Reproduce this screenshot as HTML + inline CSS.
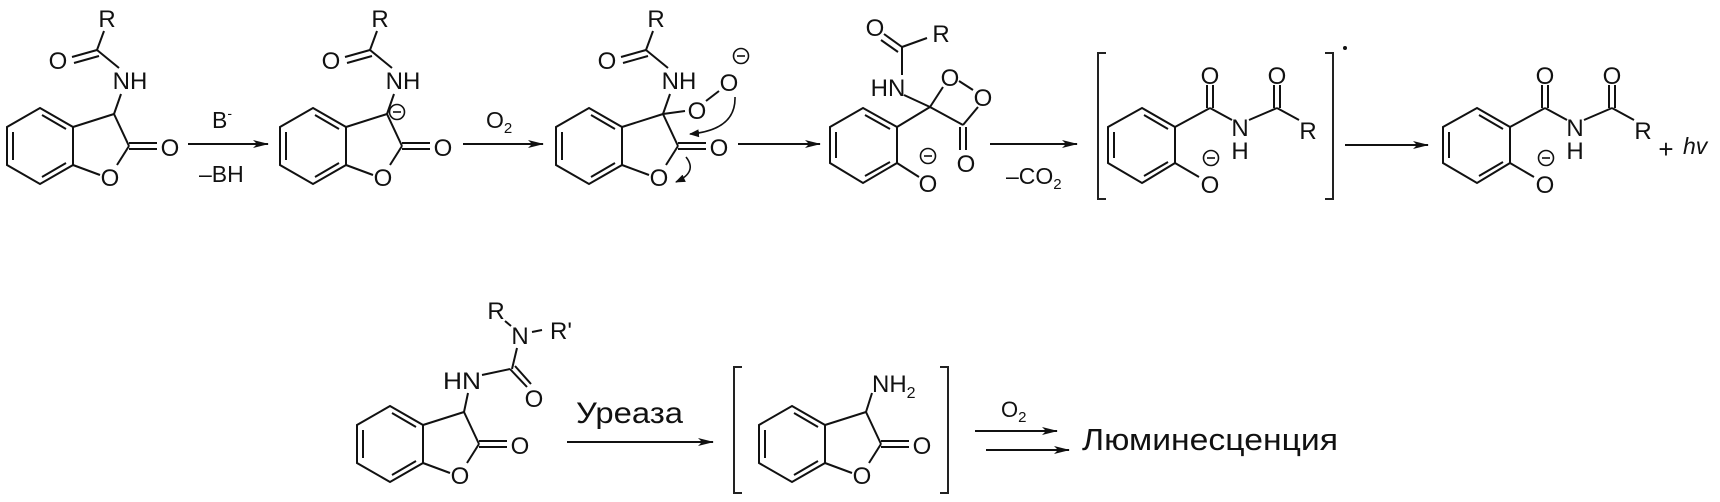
<!DOCTYPE html>
<html><head><meta charset="utf-8"><style>
html,body{margin:0;padding:0;background:#fff;}
svg{display:block;}
text{font-family:"Liberation Sans",Arial,sans-serif;fill:#111;}
</style></head><body>
<svg width="1720" height="502" viewBox="0 0 1720 502" xmlns="http://www.w3.org/2000/svg">
<defs>
<g id="bzf">
  <g fill="none" stroke="#111" stroke-width="2">
    <polygon points="40,108 73,127 73,165 40,184 7,165 7,127"/>
    <line x1="13" y1="132" x2="13" y2="160"/>
    <line x1="42" y1="115" x2="66" y2="129"/>
    <line x1="42" y1="177" x2="66" y2="163"/>
    <line x1="73" y1="127" x2="114" y2="114"/>
    <line x1="114" y1="114" x2="129" y2="146"/>
    <line x1="129" y1="146" x2="117" y2="165"/>
    <line x1="73" y1="165" x2="100" y2="175"/>
    <line x1="129" y1="143" x2="157" y2="143"/>
    <line x1="129" y1="149" x2="157" y2="149"/>
  </g>
  <text x="110" y="186" font-size="24" text-anchor="middle">O</text>
  <text x="170" y="156" font-size="24" text-anchor="middle">O</text>
</g>
<g id="acyl">
  <g fill="none" stroke="#111" stroke-width="2">
    <line x1="114" y1="114" x2="121" y2="94"/>
    <line x1="119" y1="68" x2="97" y2="50"/>
    <line x1="97" y1="50" x2="72" y2="57"/>
    <line x1="99" y1="56" x2="74" y2="63"/>
    <line x1="97" y1="50" x2="104" y2="31"/>
  </g>
  <text x="130" y="89" font-size="24" text-anchor="middle">NH</text>
  <text x="58" y="69" font-size="24" text-anchor="middle">O</text>
  <text x="107" y="27" font-size="24" text-anchor="middle">R</text>
</g>
<g id="phen">
  <g fill="none" stroke="#111" stroke-width="2">
    <polygon points="1142,108 1175,127 1175,163 1142,183 1108,163 1108,127"/>
    <line x1="1114" y1="132" x2="1114" y2="158"/>
    <line x1="1144" y1="115" x2="1168" y2="129"/>
    <line x1="1144" y1="176" x2="1168" y2="162"/>
    <line x1="1175" y1="163" x2="1199" y2="177"/>
    <line x1="1175" y1="127" x2="1210" y2="108"/>
    <line x1="1207" y1="108" x2="1207" y2="85"/>
    <line x1="1213" y1="108" x2="1213" y2="85"/>
    <line x1="1210" y1="108" x2="1232" y2="120"/>
    <line x1="1249" y1="120" x2="1277" y2="108"/>
    <line x1="1274" y1="108" x2="1274" y2="85"/>
    <line x1="1280" y1="108" x2="1280" y2="85"/>
    <line x1="1277" y1="108" x2="1299" y2="120"/>
    <circle cx="1211" cy="158" r="7.5" stroke-width="1.6"/>
    <line x1="1207" y1="158" x2="1215" y2="158" stroke-width="1.6"/>
  </g>
  <text x="1210" y="84" font-size="24" text-anchor="middle">O</text>
  <text x="1277" y="84" font-size="24" text-anchor="middle">O</text>
  <text x="1240" y="136" font-size="24" text-anchor="middle">N</text>
  <text x="1240" y="159" font-size="24" text-anchor="middle">H</text>
  <text x="1308" y="139" font-size="24" text-anchor="middle">R</text>
  <text x="1210" y="193" font-size="24" text-anchor="middle">O</text>
</g>
<marker id="ah" markerWidth="16" markerHeight="10" refX="15" refY="5" orient="auto" markerUnits="userSpaceOnUse">
  <path d="M0,1 L16,5 L0,9 L4,5 Z" fill="#111"/>
</marker>
<marker id="ahs" markerWidth="10" markerHeight="8" refX="9" refY="4" orient="auto" markerUnits="userSpaceOnUse">
  <path d="M0,0 L10,4 L0,8 Z" fill="#111"/>
</marker>
</defs>

<use href="#bzf"/>
<use href="#acyl"/>

<line x1="188" y1="144" x2="268" y2="144" stroke="#111" stroke-width="2" marker-end="url(#ah)"/>
<text x="212" y="128" font-size="23">B<tspan font-size="14" dy="-10">-</tspan></text>
<text x="199" y="182" font-size="23">–BH</text>

<g transform="translate(273,0)"><use href="#bzf"/><use href="#acyl"/></g>
<circle cx="397" cy="112" r="7.5" fill="#fff" stroke="#111" stroke-width="1.6"/>
<line x1="393" y1="112" x2="401" y2="112" stroke="#111" stroke-width="1.6"/>

<line x1="463" y1="144" x2="543" y2="144" stroke="#111" stroke-width="2" marker-end="url(#ah)"/>
<text x="486" y="128" font-size="23">O<tspan font-size="15" dy="5">2</tspan></text>

<g transform="translate(549,0)"><use href="#bzf"/><use href="#acyl"/></g>
<g fill="none" stroke="#111" stroke-width="2">
  <line x1="663" y1="114" x2="685" y2="111"/>
  <line x1="706" y1="101" x2="719" y2="91"/>
  <circle cx="741" cy="56" r="7.5" stroke-width="1.6"/>
  <line x1="737" y1="56" x2="745" y2="56" stroke-width="1.6"/>
  <path d="M735,97 Q736,130 690,134" stroke-width="1.6" marker-end="url(#ahs)"/>
  <path d="M686,157 Q698,172 676,182" stroke-width="1.6" marker-end="url(#ahs)"/>
</g>
<text x="697" y="119" font-size="24" text-anchor="middle">O</text>
<text x="729" y="91" font-size="24" text-anchor="middle">O</text>

<line x1="738" y1="144" x2="820" y2="144" stroke="#111" stroke-width="2" marker-end="url(#ah)"/>

<g fill="none" stroke="#111" stroke-width="2">
  <polygon points="863,108 897,127 897,163 863,183 830,163 830,127"/>
  <line x1="836" y1="132" x2="836" y2="158"/>
  <line x1="865" y1="115" x2="890" y2="129"/>
  <line x1="865" y1="176" x2="890" y2="162"/>
  <line x1="897" y1="127" x2="930" y2="107"/>
  <line x1="930" y1="107" x2="904" y2="95"/>
  <line x1="902" y1="75" x2="902" y2="47"/>
  <line x1="902" y1="47" x2="884" y2="34"/>
  <line x1="898" y1="52" x2="881" y2="40"/>
  <line x1="902" y1="47" x2="927" y2="38"/>
  <line x1="930" y1="107" x2="943" y2="87"/>
  <line x1="959" y1="81" x2="973" y2="90"/>
  <line x1="978" y1="107" x2="963" y2="125"/>
  <line x1="963" y1="125" x2="930" y2="107"/>
  <line x1="960" y1="127" x2="960" y2="150"/>
  <line x1="966" y1="127" x2="966" y2="150"/>
  <line x1="897" y1="163" x2="919" y2="177"/>
  <circle cx="928" cy="156" r="7.5" stroke-width="1.6"/>
  <line x1="924" y1="156" x2="932" y2="156" stroke-width="1.6"/>
</g>
<text x="888" y="96" font-size="24" text-anchor="middle">HN</text>
<text x="875" y="36" font-size="24" text-anchor="middle">O</text>
<text x="941" y="42" font-size="24" text-anchor="middle">R</text>
<text x="950" y="86" font-size="24" text-anchor="middle">O</text>
<text x="983" y="106" font-size="24" text-anchor="middle">O</text>
<text x="966" y="172" font-size="24" text-anchor="middle">O</text>
<text x="928" y="192" font-size="24" text-anchor="middle">O</text>

<line x1="990" y1="144" x2="1077" y2="144" stroke="#111" stroke-width="2" marker-end="url(#ah)"/>
<text x="1006" y="184" font-size="23">–CO<tspan font-size="15" dy="5">2</tspan></text>

<use href="#phen"/>
<path d="M1106,53 L1098,53 L1098,199 L1106,199" fill="none" stroke="#222" stroke-width="2"/>
<path d="M1325,53 L1333,53 L1333,199 L1325,199" fill="none" stroke="#222" stroke-width="2"/>
<circle cx="1345" cy="48" r="2" fill="#111"/>

<line x1="1345" y1="145" x2="1428" y2="145" stroke="#111" stroke-width="2" marker-end="url(#ah)"/>

<g transform="translate(335,0)"><use href="#phen"/></g>
<text x="1666" y="158" font-size="26" text-anchor="middle">+</text>
<text x="1683" y="154" font-size="23" font-style="italic">hv</text>

<g transform="translate(350,298)"><use href="#bzf"/></g>
<g fill="none" stroke="#111" stroke-width="2">
  <line x1="464" y1="412" x2="468" y2="393"/>
  <line x1="482" y1="375" x2="510" y2="369"/>
  <line x1="510" y1="369" x2="527" y2="387"/>
  <line x1="515" y1="366" x2="531" y2="384"/>
  <line x1="512" y1="369" x2="517" y2="348"/>
  <line x1="511" y1="326" x2="505" y2="321"/>
  <line x1="532" y1="332" x2="542" y2="330"/>
</g>
<text x="462" y="389" font-size="24" text-anchor="middle" textLength="38" lengthAdjust="spacingAndGlyphs">HN</text>
<text x="534" y="407" font-size="24" text-anchor="middle">O</text>
<text x="520" y="344" font-size="24" text-anchor="middle">N</text>
<text x="496" y="319" font-size="24" text-anchor="middle">R</text>
<text x="561" y="339" font-size="24" text-anchor="middle">R'</text>

<text x="576" y="423" font-size="30" textLength="107" lengthAdjust="spacingAndGlyphs">Уреаза</text>
<line x1="567" y1="442" x2="713" y2="442" stroke="#111" stroke-width="2" marker-end="url(#ah)"/>

<g transform="translate(752,298)"><use href="#bzf"/></g>
<line x1="866" y1="412" x2="872" y2="393" stroke="#111" stroke-width="2"/>
<text x="872" y="392" font-size="24">NH<tspan font-size="16" dy="6">2</tspan></text>
<path d="M742,367 L734,367 L734,493 L742,493" fill="none" stroke="#222" stroke-width="2"/>
<path d="M940,367 L948,367 L948,493 L940,493" fill="none" stroke="#222" stroke-width="2"/>

<text x="1001" y="417" font-size="22">O<tspan font-size="15" dy="5">2</tspan></text>
<line x1="975" y1="431" x2="1057" y2="431" stroke="#111" stroke-width="2" marker-end="url(#ah)"/>
<line x1="986" y1="450" x2="1069" y2="450" stroke="#111" stroke-width="2" marker-end="url(#ah)"/>
<text x="1082" y="450" font-size="31" textLength="256" lengthAdjust="spacingAndGlyphs">Люминесценция</text>
</svg>
</body></html>
